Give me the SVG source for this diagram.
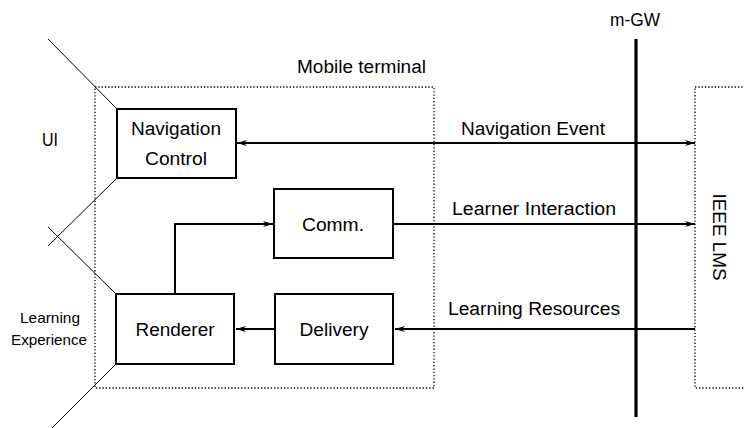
<svg xmlns="http://www.w3.org/2000/svg" width="744" height="428" viewBox="0 0 744 428">
  <style>
    text { font-family: "Liberation Sans", Arial, sans-serif; fill: #000; }
    .lbl { font-size: 18px; }
    .small { font-size: 15px; }
    .box { fill: #fff; stroke: #000; stroke-width: 2; }
    .zone { fill: none; stroke: #000; stroke-width: 1.3; stroke-dasharray: 1.3 2; }
    .edge { fill: none; stroke: #000; stroke-width: 2; }
    .thin { fill: none; stroke: #000; stroke-width: 1; }
  </style>
  <defs>
    <marker id="arr" markerUnits="userSpaceOnUse" markerWidth="10" markerHeight="8" refX="10" refY="4" orient="auto-start-reverse">
      <path d="M0,1 L10,4 L0,7 L3,4 z" fill="#000"/>
    </marker>
  </defs>

  <!-- interface boundary lines -->
  <g id="boundaries">
    <line class="thin" x1="48" y1="39" x2="117" y2="109"/>
    <line class="thin" x1="117" y1="178" x2="48" y2="246"/>
    <line class="thin" x1="48" y1="227" x2="116" y2="294"/>
    <line class="thin" x1="116" y1="364" x2="52" y2="428"/>
  </g>

  <!-- mobile terminal zone -->
  <g id="mobile-terminal">
    <rect class="zone" x="95" y="87" width="339" height="301"/>
    <text class="lbl" x="297" y="73" textLength="129" lengthAdjust="spacingAndGlyphs">Mobile terminal</text>
  </g>

  <!-- LMS zone -->
  <g id="ieee-lms">
    <rect class="zone" x="695" y="87" width="70" height="301"/>
    <text class="lbl" transform="translate(713,237) rotate(90)" text-anchor="middle" textLength="87" lengthAdjust="spacingAndGlyphs">IEEE LMS</text>
  </g>

  <!-- side labels -->
  <g id="ui-label">
    <text class="lbl" x="42" y="146" textLength="16" lengthAdjust="spacingAndGlyphs">UI</text>
  </g>
  <g id="learning-experience-label">
    <text class="small" x="50" y="323" text-anchor="middle" textLength="60" lengthAdjust="spacingAndGlyphs">Learning</text>
    <text class="small" x="49" y="345" text-anchor="middle" textLength="76" lengthAdjust="spacingAndGlyphs">Experience</text>
  </g>

  <!-- connectors -->
  <g id="connectors">
    <line class="edge" x1="237" y1="143" x2="695" y2="143" stroke-width="2.4" marker-start="url(#arr)" marker-end="url(#arr)"/>
    <line class="edge" x1="393" y1="224" x2="695" y2="224" stroke-width="1.6" marker-end="url(#arr)"/>
    <line class="edge" x1="695" y1="329" x2="395" y2="329" marker-end="url(#arr)"/>
    <line class="edge" x1="275" y1="329" x2="236" y2="329" marker-end="url(#arr)"/>
    <polyline class="edge" points="175,294 175,224 273,224" marker-end="url(#arr)"/>
    <text class="lbl" x="461" y="135" textLength="144" lengthAdjust="spacingAndGlyphs">Navigation Event</text>
    <text class="lbl" x="452" y="215" textLength="164" lengthAdjust="spacingAndGlyphs">Learner Interaction</text>
    <text class="lbl" x="448" y="315" textLength="172" lengthAdjust="spacingAndGlyphs">Learning Resources</text>
  </g>

  <!-- gateway -->
  <g id="m-gw">
    <line x1="636" y1="39" x2="636" y2="417" stroke="#000" stroke-width="3.2"/>
    <text class="lbl" x="635" y="26" text-anchor="middle" textLength="50" lengthAdjust="spacingAndGlyphs">m-GW</text>
  </g>

  <!-- nodes -->
  <g id="navigation-control">
    <rect class="box" x="117" y="109" width="119" height="69"/>
    <text class="lbl" x="176" y="135" text-anchor="middle" textLength="90" lengthAdjust="spacingAndGlyphs">Navigation</text>
    <text class="lbl" x="176" y="165" text-anchor="middle" textLength="62" lengthAdjust="spacingAndGlyphs">Control</text>
  </g>
  <g id="comm">
    <rect class="box" x="274" y="189" width="119" height="69"/>
    <text class="lbl" x="333" y="231" text-anchor="middle" textLength="62" lengthAdjust="spacingAndGlyphs">Comm.</text>
  </g>
  <g id="renderer">
    <rect class="box" x="116" y="294" width="118" height="70"/>
    <text class="lbl" x="175" y="336" text-anchor="middle" textLength="79" lengthAdjust="spacingAndGlyphs">Renderer</text>
  </g>
  <g id="delivery">
    <rect class="box" x="275" y="294" width="118" height="70"/>
    <text class="lbl" x="334" y="336" text-anchor="middle" textLength="69" lengthAdjust="spacingAndGlyphs">Delivery</text>
  </g>
</svg>
